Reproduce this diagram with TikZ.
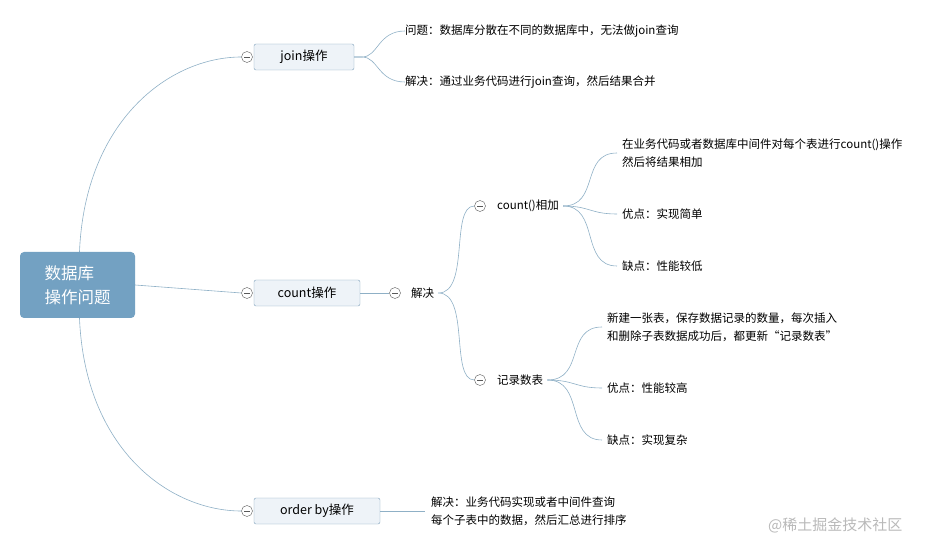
\documentclass[tikz,border=0pt]{standalone}
\usepackage{fontspec}
\setmainfont{Noto Sans CJK SC}
\definecolor{rootblue}{HTML}{73A1C2}
\definecolor{linkblue}{HTML}{8FB0C6}
\definecolor{boxfill}{HTML}{EEF3F8}
\definecolor{boxline}{HTML}{7E9FBA}
\begin{document}
\begin{tikzpicture}[x=1pt,y=-1pt,
      root/.style ={rectangle, rounded corners=4pt, fill=rootblue, text=white, minimum width=115pt, minimum height=66pt, align=left, font=\fontsize{16.5}{24}\selectfont},
      topic/.style ={rectangle, rounded corners=2pt, draw=boxline, fill=boxfill, minimum height=26pt, font=\fontsize{12.5}{14}\selectfont},
      leaf/.style ={anchor=west, align=left, inner sep=0pt, font=\fontsize{11.5}{18}\selectfont},
      fold/.style ={circle, draw=gray!70!black, fill=white, inner sep=0pt, minimum size=11pt,
         path picture={\draw[gray!70!black] ([xshift=-3pt]path picture bounding box.center) -- ([xshift=3pt]path picture bounding box.center);}},
      link/.style ={draw=linkblue, line width=0.6pt}]
   \useasboundingbox (0,0) rectangle (948,553);

   \node[root] (R) at (77.5,285) {数据库\\操作问题};

   \node[topic, minimum width=100pt] (J) at (304,57) {join操作};
   \node[topic, minimum width=106pt] (C) at (307,293) {count操作};
   \node[topic, minimum width=126pt] (O) at (317,511) {order by操作};
   \node[fold] (Jf) at (247,57) {};
   \node[fold] (Cf) at (247,293) {};
   \node[fold] (Of) at (247,511) {};

   \node[leaf] (J1) at (405,31) {问题：数据库分散在不同的数据库中，无法做join查询};
   \node[leaf] (J2) at (405,82) {解决：通过业务代码进行join查询，然后结果合并};

   \node[fold] (Sf) at (395,293) {};
   \node[leaf] (S) at (411,293) {解决};
   \node[fold] (Af) at (480,206) {};
   \node[leaf] (A) at (497,206) {count()相加};
   \node[fold] (Bf) at (480,380) {};
   \node[leaf] (B) at (497,380) {记录数表};

   \node[leaf] (A1) at (622,153) {在业务代码或者数据库中间件对每个表进行count()操作\\然后将结果相加};
   \node[leaf] (A2) at (622,214) {优点：实现简单};
   \node[leaf] (A3) at (622,266) {缺点：性能较低};

   \node[leaf] (B1) at (607,327) {新建一张表，保存数据记录的数量，每次插入\\和删除子表数据成功后，都更新“记录数表”};
   \node[leaf] (B2) at (607,388) {优点：性能较高};
   \node[leaf] (B3) at (607,440) {缺点：实现复杂};

   \node[leaf] (O1) at (431,511) {解决：业务代码实现或者中间件查询\\每个子表中的数据，然后汇总进行排序};

   \node[leaf, text=gray!55, font=\fontsize{15}{17}\selectfont] (W) at (768,525) {@稀土掘金技术社区};

   % root connectors
   \draw[link] (R.north) ++(2,0) .. controls (85,120) and (170,57) .. (Jf.west);
   \draw[link] (R.east) -- (Cf.west);
   \draw[link] (R.south) ++(2,0) .. controls (85,450) and (170,511) .. (Of.west);

   \draw[link] (J.east) -- ++(8,0) .. controls (378,57) and (378,31) .. (J1.west);
   \draw[link] (J.east) -- ++(8,0) .. controls (378,57) and (378,82) .. (J2.west);

   \draw[link] (C.east) -- (Sf.west);
   \draw[link] (S.east) ++(4,0) coordinate (Sx) .. controls (470,293) and (450,206) .. (Af.west);
   \draw[link] (Sx) .. controls (470,293) and (450,380) .. (Bf.west);

   \draw[link] (A.east) ++(4,0) coordinate (Ax) .. controls (600,206) and (580,153) .. ([xshift=-5pt]A1.west);
   \draw[link] (Ax) .. controls (590,206) and (590,214) .. ([xshift=-5pt]A2.west);
   \draw[link] (Ax) .. controls (600,206) and (580,266) .. ([xshift=-5pt]A3.west);

   \draw[link] (B.east) ++(4,0) coordinate (Bx) .. controls (585,380) and (565,327) .. ([xshift=-5pt]B1.west);
   \draw[link] (Bx) .. controls (575,380) and (575,388) .. ([xshift=-5pt]B2.west);
   \draw[link] (Bx) .. controls (585,380) and (565,440) .. ([xshift=-5pt]B3.west);

   \draw[link] (O.east) -- ([xshift=-6pt]O1.west);
 \end{tikzpicture}
\end{document}
